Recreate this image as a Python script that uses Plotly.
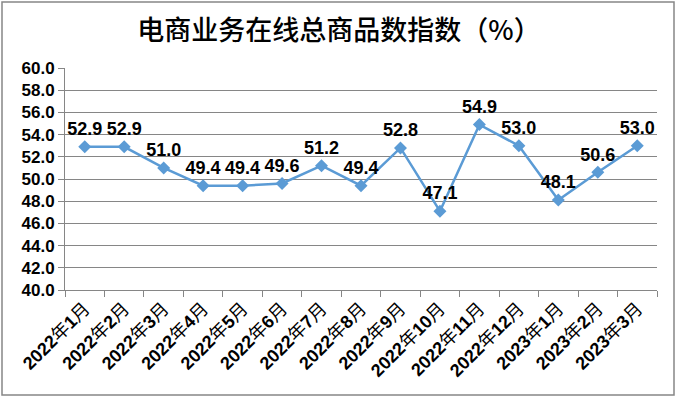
import plotly.graph_objects as go

months = ["2022年1月", "2022年2月", "2022年3月", "2022年4月", "2022年5月", "2022年6月",
          "2022年7月", "2022年8月", "2022年9月", "2022年10月", "2022年11月", "2022年12月",
          "2023年1月", "2023年2月", "2023年3月"]
values = [52.9, 52.9, 51.0, 49.4, 49.4, 49.6, 51.2, 49.4, 52.8, 47.1, 54.9, 53.0, 48.1, 50.6, 53.0]

W, H = 676, 397
ml, mr, mt, mb = 65, 19, 68, 107
pw, ph = W - ml - mr, H - mt - mb


def fmt_label(s):
    y, rest = s.split("年")
    m = rest.rstrip("月")
    return f"<b>{y}</b>年<b>{m}</b>月"


x_labels = [fmt_label(m) for m in months]

fig = go.Figure()
fig.add_trace(go.Scatter(
    x=x_labels, y=values, mode="lines+markers+text",
    line=dict(color="#5B9BD5", width=2.5),
    marker=dict(symbol="diamond", size=10, color="#5B9BD5"),
    text=[f"{v:.1f}" for v in values], textposition="top center",
    textfont=dict(family="Arial, Liberation Sans", size=18, color="#000000", weight="bold"),
    cliponaxis=False, hoverinfo="skip",
))

fig.update_layout(
    width=W, height=H,
    margin=dict(l=ml, r=mr, t=mt, b=mb, autoexpand=False),
    paper_bgcolor="white", plot_bgcolor="white",
    showlegend=False,
    title=dict(text="电商业务在线总商品数指数（%）", x=339 / W, xanchor="center", y=1 - 31 / H, yanchor="middle",
               font=dict(family="Noto Sans CJK SC", size=27, color="#000000", weight=500)),
    xaxis=dict(
        type="category", tickson="boundaries", ticks="outside", ticklen=6, tickcolor="#868686",
        showline=True, linecolor="#868686", linewidth=1, showgrid=False, automargin=False,
        tickangle=-45, tickfont=dict(family="Arial, Liberation Sans, Noto Sans CJK SC", size=18, color="#000000"),
        range=[-0.5, 14.5],
    ),
    yaxis=dict(
        range=[40, 60], dtick=2, tickformat=".1f", ticks="outside", ticklen=6, tickcolor="#868686",
        showline=True, linecolor="#868686", linewidth=1, showgrid=True, gridcolor="#868686", gridwidth=1,
        zeroline=False, automargin=False,
        tickfont=dict(family="Arial, Liberation Sans", size=17, color="#000000", weight="bold"),
    ),
    shapes=[dict(type="rect", xref="paper", yref="paper",
                 x0=(2 - ml) / pw, x1=(W - 2 - ml) / pw,
                 y0=-(mb - 2) / ph, y1=1 + (mt - 2) / ph,
                 line=dict(color="#868686", width=1.5), layer="below")],
)

fig.write_html("out.html", config={"displayModeBar": False},
               post_script="document.body.style.margin='0';document.body.style.overflow='hidden';")
